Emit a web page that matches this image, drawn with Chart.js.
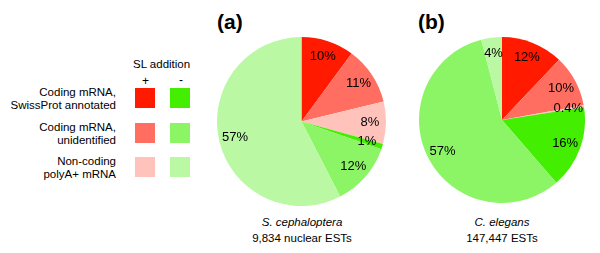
<!DOCTYPE html>
<html>
<head>
<meta charset="utf-8">
<script src="https://cdn.jsdelivr.net/npm/chart.js@4.4.1/dist/chart.umd.min.js"></script>
<style>
  body { margin: 0; background: #fff; font-family: "Liberation Sans", Arial, sans-serif; color: #000; }
  #page { position: relative; width: 600px; height: 253px; overflow: hidden; }
  .txt { position: absolute; white-space: nowrap; }
  .lab { font-size: 11.5px; line-height: 13px; text-align: right; width: 120px; }
  .sw { position: absolute; width: 20px; height: 20px; }
  .titre { font-size: 21px; font-weight: bold; }
  .sous { font-size: 11.5px; line-height: 16px; text-align: center; width: 200px; }
  canvas { position: absolute; }
</style>
</head>
<body>
<div id="page">
  <div class="txt" style="left:133px;top:58px;font-size:11.5px;">SL addition</div>
  <div class="txt" style="left:142px;top:74px;font-size:12px;">+</div>
  <div class="txt" style="left:179px;top:73px;font-size:12px;">-</div>

  <div class="txt titre" style="left:217px;top:10px;">(a)</div>
  <div class="txt titre" style="left:418px;top:10px;">(b)</div>

  <canvas id="pieA" width="169" height="169" style="left:217px;top:37px;"></canvas>
  <canvas id="pieB" width="166" height="166" style="left:419px;top:37px;"></canvas>

  <div class="txt sous" style="left:202px;top:214px;"><i>S. cephaloptera</i><br>9,834 nuclear ESTs</div>
  <div class="txt sous" style="left:402px;top:214px;"><i>C. elegans</i><br>147,447 ESTs</div>
</div>

<script>
//? Catégories (même ordre pour les deux camemberts).

const categories = [
  "SL+ coding mRNA, SwissProt annotated",
  "SL+ coding mRNA, unidentified",
  "SL+ non-coding polyA+ mRNA",
  "SL- coding mRNA, SwissProt annotated",
  "SL- coding mRNA, unidentified",
  "SL- non-coding polyA+ mRNA",
];

//? Lignes de la légende.

const legendLabels = [
  ["Coding mRNA,", "SwissProt annotated"],
  ["Coding mRNA,", "unidentified"],
  ["Non-coding", "polyA+ mRNA"],
];

//? Pourcentages.

const valeursCephaloptera = [10, 11, 8, 1, 12, 57];
const valeursElegans = [12, 10, 0.4, 16, 57, 4];

//? Couleurs.

const couleursSLplus = ["#ff1a00", "#ff6e60", "#ffc3bb"];
const couleursSLmoins = ["#44ee00", "#8cf566", "#baf8a4"];
const couleurs = couleursSLplus.concat(couleursSLmoins);

//? -------------------------------------------------

//? Construction de la légende.

const page = document.getElementById("page");
const rowsTop = [88, 122.5, 157];

legendLabels.forEach((lignes, i) => {
  const lab = document.createElement("div");
  lab.className = "txt lab";
  lab.style.left = "-4px";
  lab.style.top = rowsTop[i] - 2 + "px";
  lab.innerHTML = lignes.join("<br>");
  page.appendChild(lab);

  const plus = document.createElement("div");
  plus.className = "sw";
  plus.style.left = "135px";
  plus.style.top = rowsTop[i] + "px";
  plus.style.background = couleursSLplus[i];
  page.appendChild(plus);

  const moins = document.createElement("div");
  moins.className = "sw";
  moins.style.left = "170px";
  moins.style.top = rowsTop[i] + "px";
  moins.style.background = couleursSLmoins[i];
  page.appendChild(moins);
});

//? -------------------------------------------------

//? Plugin : étiquettes de pourcentage dans les parts.

const etiquettesPlugin = {
  id: "etiquettes",
  afterDatasetsDraw(chart) {
    const ctx = chart.ctx;
    const meta = chart.getDatasetMeta(0);
    const valeurs = chart.data.datasets[0].data;
    ctx.save();
    ctx.font = '13px "Liberation Sans", Arial, sans-serif';
    ctx.fillStyle = "#000";
    ctx.textAlign = "center";
    ctx.textBaseline = "middle";
    meta.data.forEach((arc, i) => {
      const p = arc.getProps(["x", "y", "startAngle", "endAngle", "outerRadius"], true);
      const milieu = (p.startAngle + p.endAngle) / 2;
      const r = p.outerRadius * 0.81;
      ctx.fillText(valeurs[i] + "%", p.x + Math.cos(milieu) * r, p.y + Math.sin(milieu) * r);
    });
    ctx.restore();
  },
};

//? -------------------------------------------------

//? Construction des camemberts.

const construireCamembert = (id, valeurs) => {
  try {
    const ctx = document.getElementById(id).getContext("2d");
    new Chart(ctx, {
      type: "pie",
      data: {
        labels: categories,
        datasets: [
          {
            data: valeurs,
            backgroundColor: couleurs,
            borderWidth: 0,
          },
        ],
      },
      options: {
        responsive: false,
        animation: { duration: 0 },
        layout: { padding: 0 },
        plugins: {
          legend: { display: false },
          tooltip: { enabled: false },
        },
      },
      plugins: [etiquettesPlugin],
    });
  } catch (error) {
    console.log("🔴 ERREUR | Construction camembert :", error);
  }
};

construireCamembert("pieA", valeursCephaloptera);
construireCamembert("pieB", valeursElegans);
</script>
</body>
</html>
